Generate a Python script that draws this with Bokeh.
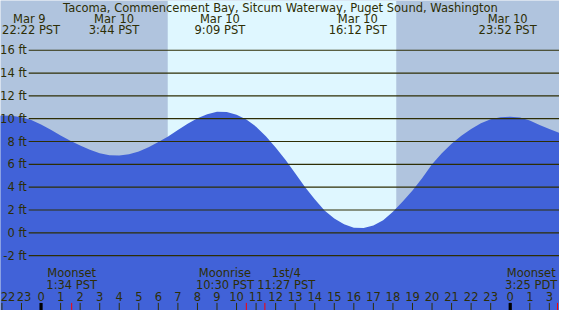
from bokeh.plotting import figure
from bokeh.models import Range1d, BoxAnnotation, ColumnDataSource
from bokeh.core.properties import value
from bokeh.embed import file_html
from bokeh.resources import INLINE

# ---------------- data ----------------
title_text = "Tacoma, Commencement Bay, Sitcum Waterway, Puget Sound, Washington"

# hours relative to Mar 10 00:00 PST, tide height in feet
tide_hours = [-2.5, -2.0, -1.5, -1.0, -0.5, 0.0, 0.5, 1.0, 1.5, 2.0, 2.5, 3.0, 3.5,
              4.0, 4.5, 5.0, 5.5, 6.0, 6.5, 7.0, 7.5, 8.0, 8.5, 9.0, 9.5, 10.0,
              10.5, 11.0, 11.5, 12.0, 12.5, 13.0, 13.5, 14.0, 14.5, 15.0, 15.5,
              16.0, 16.5, 17.0, 17.5, 18.0, 18.5, 19.0, 19.5, 20.0, 20.5, 21.0,
              21.5, 22.0, 22.5, 23.0, 23.5, 24.0, 24.5, 25.0, 25.5, 26.0, 26.5, 27.0]
tide_ft = [10.22, 10.28, 10.26, 10.12, 9.88, 9.5, 9.03, 8.53, 8.06, 7.65, 7.28, 6.98, 6.8,
           6.77, 6.88, 7.12, 7.5, 7.95, 8.45, 9.0, 9.55, 10.05, 10.4, 10.6, 10.58, 10.35,
           9.93, 9.3, 8.47, 7.48, 6.4, 5.23, 4.02, 2.95, 1.95, 1.25, 0.75,
           0.45, 0.42, 0.65, 1.1, 1.85, 2.75, 3.7, 4.8, 6.0, 6.97, 7.8,
           8.5, 9.1, 9.6, 9.95, 10.12, 10.18, 10.1, 9.85, 9.45, 9.1, 8.76, 8.4]

ext_hours = [-1.633, 3.733, 9.15, 16.2, 23.867]
ext_dates = ["Mar  9", "Mar 10", "Mar 10", "Mar 10", "Mar 10"]
ext_times = ["22:22 PST", "3:44 PST", "9:09 PST", "16:12 PST", "23:52 PST"]

grid_ft = [-2, 0, 2, 4, 6, 8, 10, 12, 14, 16]
grid_labels = ["-2 ft", "0 ft", "2 ft", "4 ft", "6 ft", "8 ft", "10 ft", "12 ft", "14 ft", "16 ft"]

hour_ticks = [-2, -1, 0, 1, 2, 3, 4, 5, 6, 7, 8, 9, 10, 11, 12, 13, 14, 15, 16, 17,
              18, 19, 20, 21, 22, 23, 24, 25, 26]
hour_labels = ["22", "23", "0", "1", "2", "3", "4", "5", "6", "7", "8", "9", "10", "11",
               "12", "13", "14", "15", "16", "17", "18", "19", "20", "21", "22", "23",
               "0", "1", "3"]
midnight_hours = [0, 24]

sunrise_h = 6.48
sunset_h = 18.17

moon_hours = [1.567, 10.5, 11.45, 26.417]
moon_names = ["Moonset", "Moonrise", "1st/4", "Moonset"]
moon_times = ["1:34 PST", "10:30 PST", "11:27 PST", "3:25 PDT"]

# ---------------- styling / layout ----------------
W, H = 559, 310
REF_W, REF_H = 575.0, 326.0
X0, X1 = -2.074, 26.52
Y0, Y1 = -6.81, 20.36

def X(px):
    return X0 + px / REF_W * (X1 - X0)

def Y(py):
    return Y1 - py / REF_H * (Y1 - Y0)

NIGHT = "#B0C4DE"
DAY = "#DFF7FF"
WATER = "#4162D8"
INK = "#2E2E05"
FONT = value("DejaVu Sans")
FS = "11.5px"

p = figure(width=W, height=H, output_backend="svg", toolbar_location=None,
           x_range=Range1d(X0, X1), y_range=Range1d(Y0, Y1),
           x_axis_location=None, y_axis_location=None, min_border=0)
p.grid.visible = False
p.outline_line_color = None
p.background_fill_color = NIGHT
p.border_fill_color = NIGHT

p.add_layout(BoxAnnotation(left=sunrise_h, right=sunset_h, fill_color=DAY,
                           fill_alpha=1, line_alpha=0, level="underlay"))

# water fill
p.varea(x=tide_hours, y1=[Y0 - 1] * len(tide_hours), y2=tide_ft, fill_color=WATER)

# horizontal level lines
p.segment(x0=[X(29)] * len(grid_ft), y0=grid_ft, x1=[X1 + 1] * len(grid_ft), y1=grid_ft,
          line_color=INK, line_width=1.2)
p.text(x=[X(27)] * len(grid_ft), y=grid_ft, text=grid_labels, text_align="right",
       text_baseline="middle", text_font=FONT, text_font_size=FS, text_color=INK)

# title
p.text(x=[X(288)], y=[Y(8)], text=[title_text], text_align="center",
       text_baseline="middle", text_font=FONT, text_font_size=FS, text_color=INK)

# high / low labels (edge label nudged inside the frame so it stays readable)
ext_dx = [22] + [0] * (len(ext_hours) - 1)
ext_src = ColumnDataSource(dict(x=ext_hours, d=ext_dates, t=ext_times, dx=ext_dx))
p.text(x="x", y=Y(19.5), text="d", x_offset="dx", source=ext_src, text_align="center",
       text_baseline="middle", text_font=FONT, text_font_size=FS, text_color=INK)
p.text(x="x", y=Y(31.5), text="t", x_offset="dx", source=ext_src, text_align="center",
       text_baseline="middle", text_font=FONT, text_font_size=FS, text_color=INK)

# hour ticks and labels
p.segment(x0=hour_ticks, y0=[Y(318)] * len(hour_ticks), x1=hour_ticks,
          y1=[Y0 - 1] * len(hour_ticks), line_color=INK, line_width=1)
p.segment(x0=midnight_hours, y0=[Y(318)] * 2, x1=midnight_hours, y1=[Y0 - 1] * 2,
          line_color="black", line_width=3.2)
p.segment(x0=moon_hours, y0=[Y(318)] * len(moon_hours), x1=moon_hours,
          y1=[Y0 - 1] * len(moon_hours), line_color="red", line_width=1)
hour_dx = [6.0, 2.5] + [0] * (len(hour_ticks) - 2)
hour_src = ColumnDataSource(dict(x=hour_ticks, t=hour_labels, dx=hour_dx))
p.text(x="x", y=Y(311.5), text="t", x_offset="dx", source=hour_src, text_align="center",
       text_baseline="middle", text_font=FONT, text_font_size=FS, text_color=INK)

# moon labels (shifted apart where they would collide or leave the frame)
shift = [0, -22, 22, -27]
moon_src = ColumnDataSource(dict(x=moon_hours, names=moon_names, times=moon_times,
                                 dx=[s * W / REF_W for s in shift]))
p.text(x="x", y=Y(287), text="names", x_offset="dx", source=moon_src, text_align="center",
       text_baseline="middle", text_font=FONT, text_font_size=FS, text_color=INK)
p.text(x="x", y=Y(299.5), text="times", x_offset="dx", source=moon_src, text_align="center",
       text_baseline="middle", text_font=FONT, text_font_size=FS, text_color=INK)

open("out.html", "w").write(file_html(p, INLINE))
